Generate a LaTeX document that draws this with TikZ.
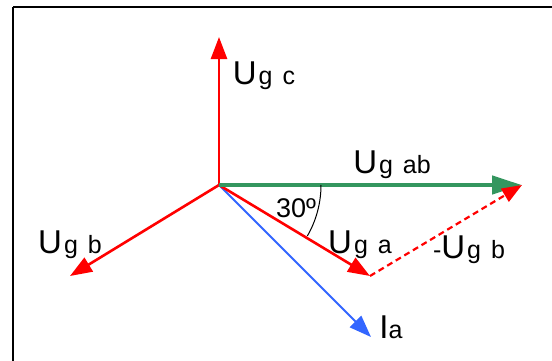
\documentclass[tikz,border=0pt]{standalone}
\usepackage{fontspec}
\setmainfont{Liberation Sans}
\usepackage{tikz}
\usetikzlibrary{calc}
\usetikzlibrary{arrows.meta}
\usetikzlibrary{positioning}

\definecolor{abgreen}{RGB}{52,150,95}
\definecolor{iblue}{RGB}{51,102,255}

\newcommand{\Ug}[1]{{\fontsize{33}{33}\selectfont U}\hspace{2pt}g\hspace{3pt} #1}

\begin{document}
\begin{tikzpicture}[x=1pt, y=-1pt]
		
		\useasboundingbox (0,0) rectangle (552,360);
		
		\tikzset{
			phasor/.style={red, line width=2.6pt, -{Triangle[length=22pt, width=16pt]}},
			lbl/.style={font=\fontsize{25}{27}\selectfont, inner sep=0pt}
		}
		
		% frame
		\draw[line width=2.6pt] (13,7) -- (560,7);
		\draw[line width=2.6pt] (13,7) -- (13,370);
		
		% Define coordinates
		\coordinate (O) at (219,185);
		\coordinate (Tc) at (219,37);
		\coordinate (Ta) at (370,276);
		\coordinate (Tb) at (70,276);
		\coordinate (Tab) at (522,185);
		\coordinate (TI) at (371,337);
		
		% line-to-neutral voltages
		\draw[phasor] (O) -- (Tc);
		\draw[phasor] (O) -- (Tb);
		\draw[iblue, line width=2pt, -{Triangle[length=22pt, width=16pt]}] (O) -- (TI);
		\draw[phasor] (O) -- (Ta);
		
		% line-to-line voltage
		\draw[abgreen, line width=4.5pt, -{Triangle[length=30pt, width=18pt]}] (O) -- (Tab);
		\draw[red, line width=2.2pt, dash pattern=on 6pt off 4pt, -{Triangle[length=20pt, width=15pt]}] (Ta) -- (Tab);
		
		% 30 deg angle
		\draw[black, line width=1pt] ($(O)+(102,0)$) arc (0:30:102);
		
		% Labels
		\node[lbl] (lc) at (264,76) {\Ug{c}};
		\node[lbl] (lab) at (392,165) {\Ug{ab}};
		\node[lbl] (la) at (360,245) {\Ug{a}};
		\node[lbl] (lb) at (70,245) {\Ug{b}};
		\node[lbl] (lmb) at (469,250) {-\Ug{b}};
		\node[lbl] (lI) at (391,327) {{\fontsize{33}{33}\selectfont I}a};
		\node[lbl, font=\fontsize{27}{29}\selectfont] (lang) at (296,208) {30º};
		
	\end{tikzpicture}
\end{document}
